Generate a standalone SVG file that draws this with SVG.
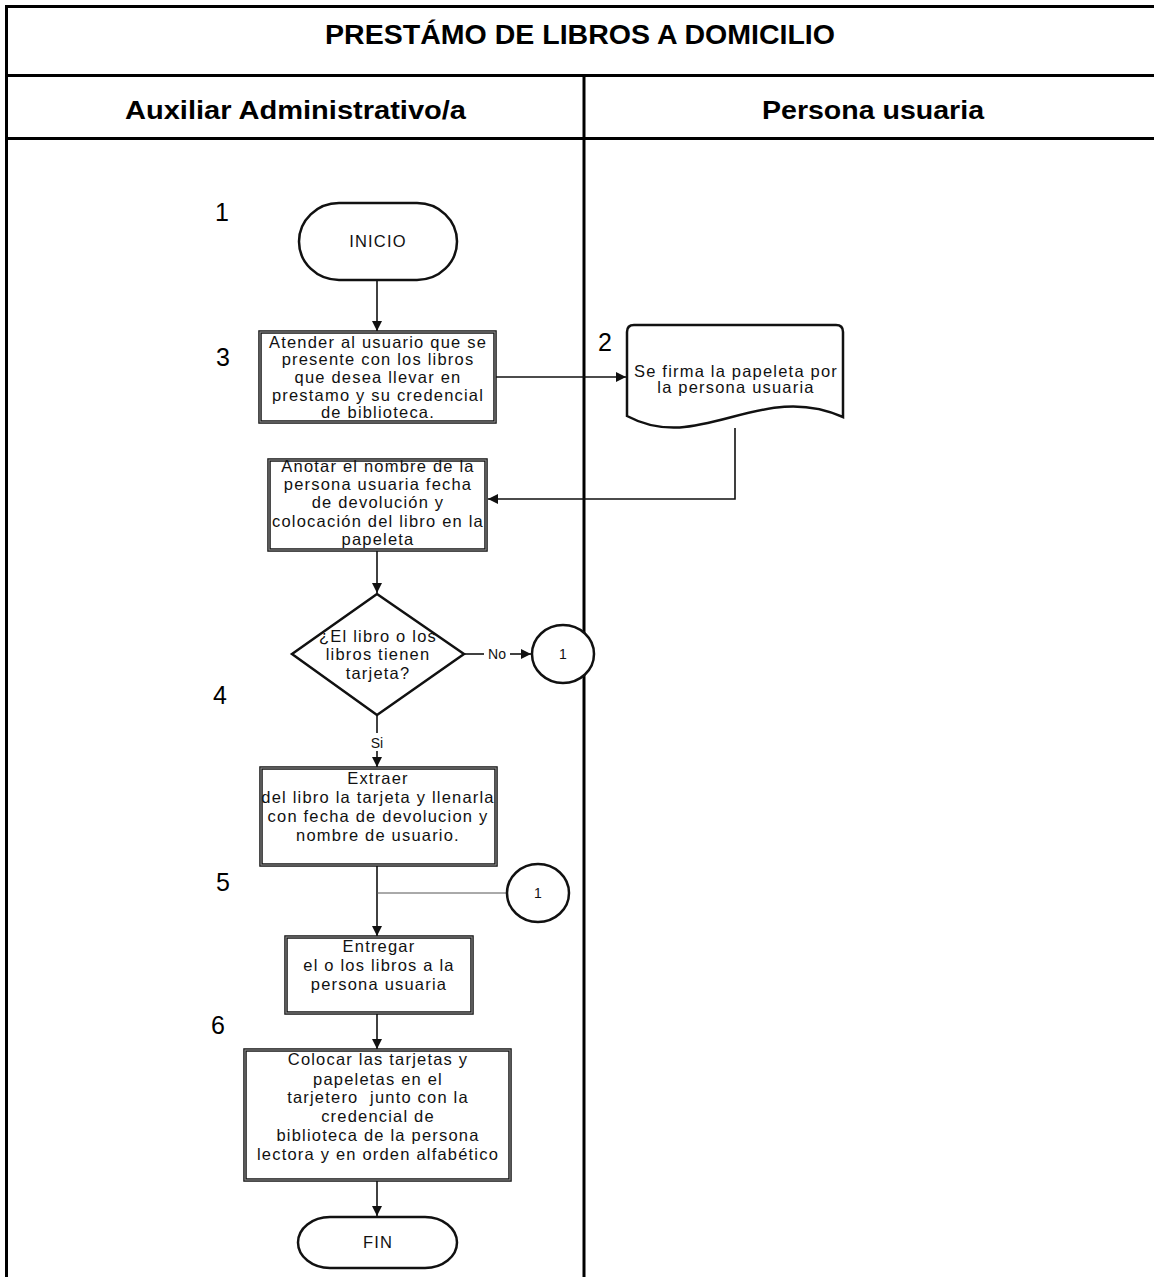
<svg xmlns="http://www.w3.org/2000/svg" width="1154" height="1277" viewBox="0 0 1154 1277">
<defs>
<style>
.grid{stroke:#000;stroke-width:3;fill:none}
.hd{font-family:"Liberation Sans",Arial,sans-serif;font-weight:bold;fill:#000}
.t{font-family:"Liberation Sans",Arial,sans-serif;font-size:16.5px;letter-spacing:1.2px;fill:#111;text-anchor:middle}
.num{font-family:"Liberation Sans",Arial,sans-serif;font-size:25px;fill:#000;text-anchor:middle}
.sm{font-family:"Liberation Sans",Arial,sans-serif;font-size:14px;fill:#111;text-anchor:middle}
.bo{fill:#fff;stroke:#111;stroke-width:3.5}
.bi{fill:none;stroke:#8a8a8a;stroke-width:1.2}
.sh{fill:#fff;stroke:#111;stroke-width:2.5}
.ln{stroke:#111;stroke-width:1.6;fill:none}
.thin{stroke:#555;stroke-width:1;fill:none}
</style>
<marker id="ah" viewBox="0 0 10 10" refX="10" refY="5" markerWidth="10" markerHeight="10" markerUnits="userSpaceOnUse" orient="auto">
<path d="M0,0 L10,5 L0,10 Z" fill="#111"/>
</marker>
</defs>
<rect width="1154" height="1277" fill="#fff"/>
<g id="table">
<line class="grid" x1="6.5" y1="5" x2="6.5" y2="1277"/>
<line class="grid" x1="5" y1="6.5" x2="1154" y2="6.5"/>
<line class="grid" x1="5" y1="75.5" x2="1154" y2="75.5"/>
<line class="grid" x1="5" y1="138.5" x2="1154" y2="138.5"/>
<line class="grid" x1="584" y1="75" x2="584" y2="1277"/>
<text class="hd" x="580" y="44" font-size="27" text-anchor="middle" textLength="510" lengthAdjust="spacingAndGlyphs">PRESTÁMO DE LIBROS A DOMICILIO</text>
<text class="hd" x="295.5" y="119" font-size="26" text-anchor="middle" textLength="341" lengthAdjust="spacingAndGlyphs">Auxiliar Administrativo/a</text>
<text class="hd" x="873" y="119" font-size="26" text-anchor="middle" textLength="222" lengthAdjust="spacingAndGlyphs">Persona usuaria</text>
</g>
<g id="step-numbers">
<text class="num" x="222" y="221">1</text>
<text class="num" x="223" y="366">3</text>
<text class="num" x="605" y="351">2</text>
<text class="num" x="220" y="704">4</text>
<text class="num" x="223" y="891">5</text>
<text class="num" x="218" y="1034">6</text>
</g>
<g id="connectors">
<line class="ln" x1="377" y1="280" x2="377" y2="331" marker-end="url(#ah)"/>
<line class="ln" x1="495" y1="377" x2="626" y2="377" marker-end="url(#ah)"/>
<polyline class="ln" points="735,428 735,499 488,499" marker-end="url(#ah)"/>
<line class="ln" x1="377" y1="550" x2="377" y2="593" marker-end="url(#ah)"/>
<line class="ln" x1="464" y1="654" x2="484" y2="654"/>
<line class="ln" x1="510" y1="654" x2="531" y2="654" marker-end="url(#ah)"/>
<text class="sm" x="497" y="659">No</text>
<line class="ln" x1="377" y1="715" x2="377" y2="733"/>
<text class="sm" x="377" y="748">Si</text>
<line class="ln" x1="377" y1="751" x2="377" y2="767" marker-end="url(#ah)"/>
<line class="ln" x1="377" y1="865" x2="377" y2="936" marker-end="url(#ah)"/>
<line class="thin" x1="377" y1="893" x2="507" y2="893"/>
<line class="ln" x1="377" y1="1013" x2="377" y2="1049" marker-end="url(#ah)"/>
<line class="ln" x1="377" y1="1181" x2="377" y2="1216" marker-end="url(#ah)"/>
</g>
<g id="inicio">
<rect class="sh" x="299" y="203" width="158" height="77" rx="40" ry="38.5"/>
<text class="t" x="378" y="247" font-size="15">INICIO</text>
</g>
<g id="atender">
<rect class="bo" x="260" y="332" width="235" height="90"/>
<rect class="bi" x="260" y="332" width="235" height="90"/>
<text class="t" x="378" y="347.5">Atender al usuario que se</text>
<text class="t" x="378" y="365">presente con los libros</text>
<text class="t" x="378" y="383">que desea llevar en</text>
<text class="t" x="378" y="400.5">prestamo y su credencial</text>
<text class="t" x="378" y="418">de biblioteca.</text>
</g>
<g id="firma">
<path class="sh" d="M627,332 Q627,325 634,325 L836,325 Q843,325 843,332 L843,417 C760,380 700,455 627,416 Z"/>
<text class="t" x="736" y="377">Se firma la papeleta por</text>
<text class="t" x="736" y="393">la persona usuaria</text>
</g>
<g id="anotar">
<rect class="bo" x="269" y="460" width="217" height="90"/>
<rect class="bi" x="269" y="460" width="217" height="90"/>
<text class="t" x="378" y="472">Anotar el nombre de la</text>
<text class="t" x="378" y="490">persona usuaria fecha</text>
<text class="t" x="378" y="508">de devolución y</text>
<text class="t" x="378" y="527">colocación del libro en la</text>
<text class="t" x="378" y="545">papeleta</text>
</g>
<g id="decision">
<polygon class="sh" points="377,594 464,654 377,715 292,654"/>
<text class="t" x="378" y="642">¿El libro o los</text>
<text class="t" x="378" y="660">libros tienen</text>
<text class="t" x="378" y="679">tarjeta?</text>
</g>
<g id="conector-1a">
<ellipse class="sh" cx="563" cy="654" rx="31" ry="29"/>
<text class="sm" x="563" y="659">1</text>
</g>
<g id="extraer">
<rect class="bo" x="261" y="768" width="235" height="97"/>
<rect class="bi" x="261" y="768" width="235" height="97"/>
<text class="t" x="378" y="784">Extraer</text>
<text class="t" x="378" y="803">del libro la tarjeta y llenarla</text>
<text class="t" x="378" y="822">con fecha de devolucion y</text>
<text class="t" x="378" y="841">nombre de usuario.</text>
</g>
<g id="conector-1b">
<ellipse class="sh" cx="538" cy="893" rx="31" ry="29"/>
<text class="sm" x="538" y="898">1</text>
</g>
<g id="entregar">
<rect class="bo" x="286" y="937" width="186" height="76"/>
<rect class="bi" x="286" y="937" width="186" height="76"/>
<text class="t" x="379" y="952">Entregar</text>
<text class="t" x="379" y="971">el o los libros a la</text>
<text class="t" x="379" y="990">persona usuaria</text>
</g>
<g id="colocar">
<rect class="bo" x="245" y="1050" width="265" height="130"/>
<rect class="bi" x="245" y="1050" width="265" height="130"/>
<text class="t" x="378" y="1065">Colocar las tarjetas y</text>
<text class="t" x="378" y="1085">papeletas en el</text>
<text class="t" x="378" y="1103" xml:space="preserve">tarjetero  junto con la</text>
<text class="t" x="378" y="1122">credencial de</text>
<text class="t" x="378" y="1141">biblioteca de la persona</text>
<text class="t" x="378" y="1160">lectora y en orden alfabético</text>
</g>
<g id="fin">
<rect class="sh" x="298" y="1217" width="159" height="51" rx="32" ry="25.5"/>
<text class="t" x="378" y="1248" font-size="15">FIN</text>
</g>
</svg>
